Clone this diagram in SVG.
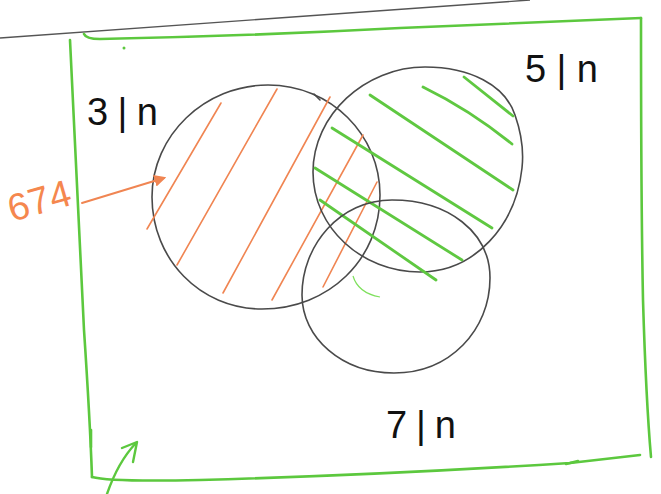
<svg xmlns="http://www.w3.org/2000/svg" width="661" height="494" viewBox="0 0 661 494">
<style>
.bg{fill:#ffffff}
.circ{fill:none;stroke:#4a4a4a;stroke-width:1.6;stroke-linecap:round}
.univ{fill:none;stroke:#5cc83e;stroke-width:2.6;stroke-linecap:round;stroke-linejoin:round}
.hg{fill:none;stroke:#5fc841;stroke-width:2.8;stroke-linecap:round}
.ho{fill:none;stroke:#f08552;stroke-width:1.6;stroke-linecap:round}
.lbl{font-family:"Liberation Sans","DejaVu Sans",sans-serif;font-size:38px;fill:#111111}
.num{font-family:"Liberation Sans","DejaVu Sans",sans-serif;font-size:38px;fill:#f5874e}
.arrO{fill:none;stroke:#f08552;stroke-width:2;stroke-linecap:round}
.arrG{fill:none;stroke:#5cc83e;stroke-width:2.4;stroke-linecap:round;stroke-linejoin:round}
</style>
<defs>
<marker id="headO" viewBox="0 0 10 10" refX="8" refY="5" markerWidth="6" markerHeight="6" orient="auto" markerUnits="strokeWidth">
<path d="M0,0 L10,5 L0,10 z" fill="#f08552"/>
</marker>
</defs>
<rect class="bg" x="0" y="0" width="661" height="494"/>
<line x1="0" y1="38" x2="530" y2="0" stroke="#555555" stroke-width="1.4"/>

<g id="universe">
<path class="univ" d="M84,34 Q86,39 100,39 Q250,36 400,28 L641,18"/>
<path class="univ" d="M641,18 Q641,200 643,300 Q646,400 651,457"/>
<path class="univ" d="M70,40 Q78,200 84,330 Q90,420 92,477"/>
<path class="univ" d="M92,477 Q110,482 200,480 Q380,475 570,463 L640,455"/>
<path class="univ" d="M91,430 L91,447" stroke-width="4"/>
<path class="univ" d="M566,464 L578,461" stroke-width="4"/>
<circle cx="124" cy="48" r="1.5" fill="#5cc83e"/>
</g>

<g id="set3">
<path class="circ" d="M268,85 C331,85 380,135 380,195 C380,259 329,309 262,309 C200,309 152,259 152,197 C152,135 205,85 268,85 Z"/>
<path class="circ" d="M314,94 L320,100"/>
<path class="ho" d="M147,229 L221,103"/>
<path class="ho" d="M177,265 L277,89"/>
<path class="ho" d="M223,293 L330,97"/>
<path class="ho" d="M272,300 L363,135"/>
<path class="ho" d="M323,287 L377,182"/>
<text class="lbl" x="87" y="125" textLength="71" lengthAdjust="spacing">3|n</text>
</g>

<g id="set5">
<path class="circ" d="M425,67 C470,67 505,85 515,115 C522,135 524,150 522,168 C516,225 475,272 420,272 C362,272 313,228 313,172 C313,115 365,67 425,67 Z"/>
<path class="hg" d="M464,77 L513,116"/>
<path class="hg" d="M423,87 Q470,110 512,144" stroke="#6ddf48"/>
<path class="hg" d="M370,95 L513,190"/>
<path class="hg" d="M332,128 L492,228"/>
<path class="hg" d="M315,168 L462,260"/>
<path class="hg" d="M320,200 L436,280"/>
<text class="lbl" x="525" y="82" textLength="73" lengthAdjust="spacing">5|n</text>
</g>

<g id="set7">
<path class="circ" d="M392,200 C448,200 490,232 490,278 C490,330 450,373 394,373 C342,373 302,338 302,295 C302,245 340,200 392,200 Z"/>
<path d="M353,276 Q358,293 380,297" fill="none" stroke="#7ee05c" stroke-width="1.2"/>
<text class="lbl" x="386" y="438" textLength="70" lengthAdjust="spacing">7|n</text>
</g>

<g id="count">
<text class="num" transform="translate(12,222) rotate(-16)" textLength="64" lengthAdjust="spacing">674</text>
</g>

<g id="connectors">
<path class="arrO" d="M82,203 L164,178" marker-end="url(#headO)"/>
<path class="arrG" d="M107,494 Q118,462 136,443"/>
<path class="arrG" d="M122,448 L137,442 L133,462"/>
</g>
</svg>
